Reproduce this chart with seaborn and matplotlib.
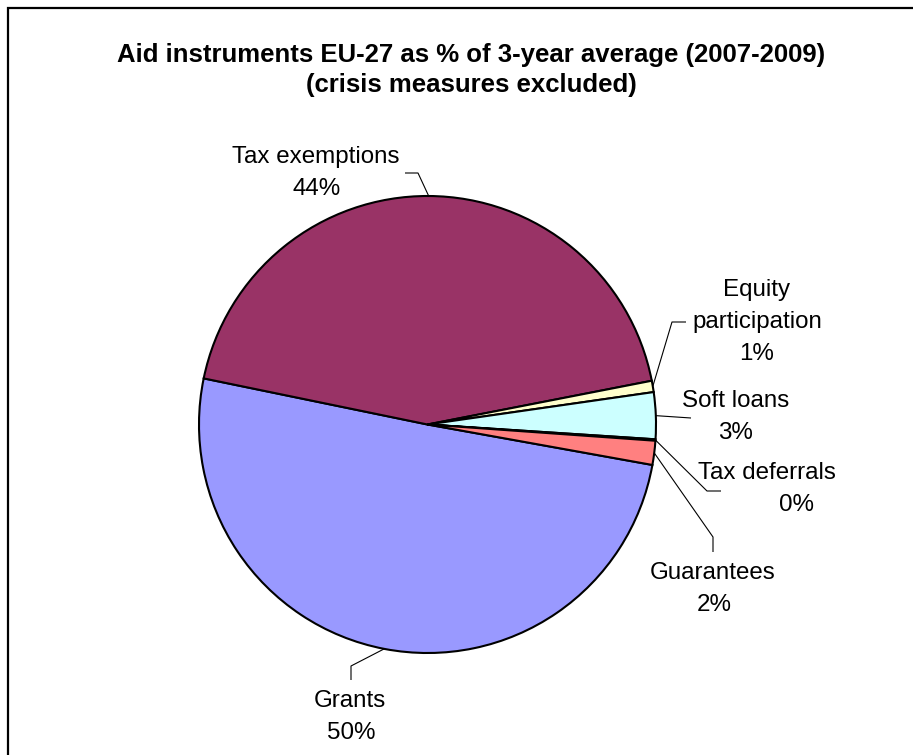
import matplotlib
matplotlib.use("Agg")
import matplotlib.pyplot as plt
from matplotlib.patches import Rectangle
import numpy as np
import seaborn as sns

# Aid instruments, share of the 3-year average (2007-2009), crisis measures excluded
categories = ["Grants", "Tax exemptions", "Equity\nparticipation", "Soft loans",
              "Tax deferrals", "Guarantees"]
shares = [50.4, 43.7, 0.8, 3.3, 0.1, 1.7]
slice_colors = ["#9999FF", "#993366", "#FFFFCC", "#CCFFFF", "#660066", "#FF8080"]

title_lines = ["Aid instruments EU-27 as % of 3-year average (2007-2009)",
               "(crisis measures excluded)"]

sns.set_theme(style="white")
plt.rcParams["font.family"] = ["Liberation Sans", "DejaVu Sans"]

W, H = 913, 755
fig = plt.figure(figsize=(W / 100, H / 100), dpi=100)
ax = fig.add_axes([0, 0, 1, 1])


def px(x, y):
    """Pixel position (origin top-left) to axes data coordinates."""
    return x, H - y


palette = sns.color_palette(slice_colors)
wedges, _ = ax.pie(shares, colors=palette, startangle=-10.2, counterclock=False,
                   center=px(427.5, 424.5), radius=228.5,
                   wedgeprops=dict(edgecolor="black", linewidth=1.5))
ax.set_xlim(0, W)
ax.set_ylim(0, H)
ax.set_aspect("equal")
ax.axis("off")

# label layout: leader path (in pixels) after the slice edge, text centre x,
# baseline of first line, and x of the percentage line
layout = {
    "Grants": dict(path=[(351, 666), (351, 680)], x=350, y=707, px_=351),
    "Tax exemptions": dict(path=[(418, 173), (405, 173)], x=316, y=163, px_=317),
    "Equity\nparticipation": dict(path=[(672, 322), (686, 322)], x=757, y=296, px_=757),
    "Soft loans": dict(path=[(691, 418)], x=736, y=407, px_=735),
    "Tax deferrals": dict(path=[(707, 491), (721, 491)], x=767, y=479, px_=797),
    "Guarantees": dict(path=[(713, 537), (713, 552)], x=713, y=579, px_=714),
}

line_gap = 32
fs = 17.4
for wedge, name, val in zip(wedges, categories, shares):
    lay = layout[name]
    mid = np.deg2rad((wedge.theta1 + wedge.theta2) / 2)
    cx, cy = wedge.center
    start = (cx + wedge.r * np.cos(mid), cy + wedge.r * np.sin(mid))
    pts = [start] + [px(*p) for p in lay["path"]]
    xs, ys = zip(*pts)
    ax.plot(xs, ys, color="black", lw=0.8, solid_capstyle="butt")
    lines = name.split("\n")
    for i, ln in enumerate(lines):
        ax.text(*px(lay["x"], lay["y"] + i * line_gap), ln, ha="center",
                va="baseline", fontsize=fs, color="black")
    ax.text(*px(lay["px_"], lay["y"] + len(lines) * line_gap), f"{val:.0f}%",
            ha="center", va="baseline", fontsize=fs, color="black")

# title
for i, t in enumerate(title_lines):
    ax.text(*px(471, 62 + i * 30), t, ha="center", va="baseline",
            fontsize=18.5, fontweight="bold", color="black")

# chart area border
ax.add_patch(Rectangle(px(8, H + 20), W + 20, H + 12, fill=False,
                       edgecolor="black", lw=1.6, clip_on=False))

fig.savefig("out.png", dpi=100, facecolor="white")
